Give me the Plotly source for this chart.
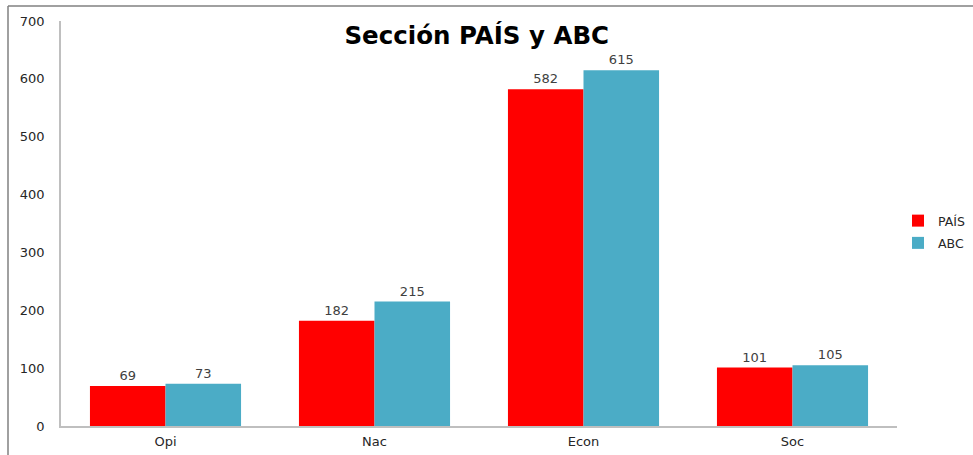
import plotly.graph_objects as go

categories = ["Opi", "Nac", "Econ", "Soc"]
pais = [69, 182, 582, 101]
abc = [73, 215, 615, 105]
y_ticks = [0, 100, 200, 300, 400, 500, 600, 700]

label_font = dict(family="DejaVu Sans", size=13, color="#404040")

fig = go.Figure()
fig.add_trace(go.Bar(name="PAÍS", x=categories, y=pais, marker=dict(color="#FF0000", line=dict(width=0)),
                     text=pais, textposition="outside", cliponaxis=False, legendgroup="a",
                     textfont=label_font))
fig.add_trace(go.Bar(name="ABC", x=categories, y=abc, marker=dict(color="#4BACC6", line=dict(width=0)),
                     text=abc, textposition="outside", cliponaxis=False, legendgroup="b",
                     textfont=label_font))

fig.update_layout(
    width=973, height=455,
    margin=dict(l=61, r=76, t=21, b=29, autoexpand=False),
    paper_bgcolor="white", plot_bgcolor="white",
    barmode="group", bargap=0.277, bargroupgap=0,
    title=dict(text="<b>Sección PAÍS y ABC</b>", x=0.49, xanchor="center", y=0.923, yanchor="middle",
               font=dict(family="DejaVu Sans", size=24.5, color="#000000")),
    legend=dict(xref="container", yref="container", x=898 / 973, y=1 - 232 / 455,
                xanchor="left", yanchor="middle", traceorder="grouped", tracegroupgap=3,
                font=dict(family="DejaVu Sans", size=12.5, color="#262626"),
                itemwidth=30, bgcolor="rgba(0,0,0,0)"),
    xaxis=dict(showline=True, linecolor="#BFBFBF", linewidth=1.5, ticks="", automargin=False,
               ticklabelstandoff=3,
               tickfont=dict(family="DejaVu Sans", size=13, color="#262626"), showgrid=False),
    yaxis=dict(range=[0, 700], tickvals=y_ticks, showline=True, linecolor="#BFBFBF", linewidth=1.5,
               showgrid=False, zeroline=False, ticks="", ticklabelstandoff=12, automargin=False,
               tickfont=dict(family="DejaVu Sans", size=13, color="#262626")),
)

# outer chart border (left and top edges visible)
fig.add_shape(type="line", xref="paper", yref="paper", x0=(8 - 61) / 836, x1=(8 - 61) / 836,
              y0=1 + (21 - 6) / 405, y1=-(455 - 426) / 405 - 0.01, line=dict(color="#808080", width=1.5))
fig.add_shape(type="line", xref="paper", yref="paper", x0=(8 - 61) / 836, x1=1.2,
              y0=1 + (21 - 6) / 405, y1=1 + (21 - 6) / 405, line=dict(color="#808080", width=1.5))

fig.write_html("out.html", config={"displayModeBar": False},
               post_script="document.body.style.margin='0px';document.body.style.overflow='hidden';")
